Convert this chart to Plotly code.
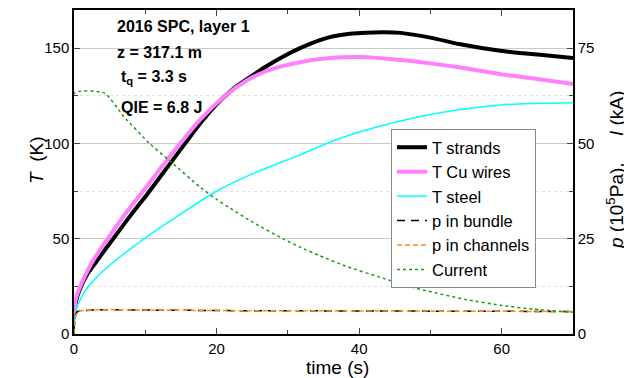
import plotly.graph_objects as go

# ---- data ----
t_strands = [0, 0.1, 0.4, 1.0, 1.8, 2.9, 4.5, 6.1, 8, 10.4, 13.5, 17.7, 20, 22.3, 24.7, 27, 29.3, 31.7, 34.5, 36.4, 38.7, 41, 43.4, 45.8, 50, 54.2, 59.8, 65, 70]
T_strands = [8, 12, 19, 25, 31, 36.7, 45, 53, 62.5, 74, 89.5, 110.5, 120.5, 128.5, 134.8, 140.5, 145.5, 150, 154.2, 156.2, 157.5, 158.1, 158.3, 158, 155.5, 152, 148.6, 146.6, 144.8]

t_cu = [0, 0.1, 0.3, 1.0, 2.4, 3.8, 5.2, 7.5, 9.9, 13, 17.7, 21.2, 24, 27, 29.5, 31.7, 34, 36.4, 40, 45.8, 50, 54.2, 59.8, 65, 70]
T_cu = [9, 14, 19, 26, 36.7, 45, 52.5, 64.5, 76, 91, 112.5, 125, 132.5, 138, 140.8, 142.6, 144.1, 145, 145.3, 143.8, 142, 139.8, 136.3, 133.8, 131.1]

t_steel = [0, 0.4, 1.0, 1.9, 3.5, 5.2, 7.5, 10.4, 15, 19.8, 25, 31.7, 36.4, 40, 45.8, 52.8, 59.8, 65, 70]
T_steel = [5, 14, 19, 24.4, 31, 36.7, 43.5, 51.5, 63, 74.5, 84, 94, 101.4, 106, 111.8, 117, 120.2, 121, 121.4]

t_p = [0, 0.2, 0.5, 1, 3, 5, 8, 15, 25, 40, 50, 60, 70]
p_bundle = [1, 5.2, 5.9, 6.1, 6.3, 6.4, 6.3, 6.15, 6.1, 6.05, 6.0, 5.95, 5.9]
p_channels = [0, 4.8, 5.8, 6.1, 6.3, 6.4, 6.3, 6.15, 6.1, 6.05, 6.0, 5.95, 5.9]

t_I = [0, 0.05, 4.3, 7, 10.6, 13.4, 17.7, 20, 21.9, 25, 29.4, 31.7, 34.5, 38, 43.4, 48, 55.1, 60, 64.5, 70]
I_current = [0, 63.2, 63.2, 57, 50, 45.5, 38.5, 35.3, 33.0, 29.4, 24.9, 22.8, 20.5, 17.9, 14.6, 12.0, 9.0, 7.5, 6.5, 5.7]

x_ticks = [0, 20, 40, 60]
yT_ticks = [0, 50, 100, 150]
y2_ticks = [0, 25, 50, 75]

FONT = "Arial, Liberation Sans, sans-serif"
OFF = 8  # page body margin offsets the figure in the browser window
W, H = 632, 378
# target plot area in window pixels: x 74..573, y 10..334
L, T = 74 - OFF, 10 - OFF
R = W - (573 - OFF)
B = H - (334 - OFF)
PW, PH = W - L - R, H - T - B


def px_x(px):  # window pixel -> paper coordinate
    return (px - OFF - L) / PW


def px_y(py):
    return (H - B - (py - OFF)) / PH


fig = go.Figure()
fig.add_trace(go.Scatter(x=t_strands, y=T_strands, name="T strands", mode="lines",
                         line=dict(color="black", width=4, shape="spline", smoothing=0.8)))
fig.add_trace(go.Scatter(x=t_cu, y=T_cu, name="T Cu wires", mode="lines",
                         line=dict(color="#ff7fff", width=4, shape="spline", smoothing=0.8)))
fig.add_trace(go.Scatter(x=t_steel, y=T_steel, name="T steel", mode="lines",
                         line=dict(color="#00ffff", width=1.5, shape="spline", smoothing=0.8)))
fig.add_trace(go.Scatter(x=t_p, y=p_bundle, name="p in bundle", mode="lines", yaxis="y2",
                         line=dict(color="black", width=1.5, dash="8px,6px")))
fig.add_trace(go.Scatter(x=t_p, y=p_channels, name="p in channels", mode="lines", yaxis="y2",
                         line=dict(color="#ff8c1a", width=1.5, dash="5px,3px")))
fig.add_trace(go.Scatter(x=t_I, y=I_current, name="Current", mode="lines", yaxis="y2",
                         line=dict(color="#1a9a1a", width=1.5, dash="dot", shape="spline", smoothing=0.5)))

annots = [
    ("<b>2016 SPC, layer 1</b>", 115, 26),
    ("<b>z = 317.1 m</b>", 115, 52),
    ("<b>t<sub>q</sub> = 3.3 s</b>", 119, 77),
    ("<b>QIE = 6.8 J</b>", 119, 107),
]
for txt, px, py in annots:
    fig.add_annotation(text=txt, xref="paper", yref="paper",
                       x=px_x(px), y=px_y(py), xanchor="left", yanchor="middle",
                       showarrow=False, font=dict(family=FONT, size=16, color="black"))

# axis titles placed as text annotations for exact positioning
fig.add_annotation(text="time (s)", xref="paper", yref="paper", x=px_x(337), y=px_y(367),
                   xanchor="center", yanchor="middle", showarrow=False,
                   font=dict(family=FONT, size=19, color="black"))
fig.add_annotation(text="<i>T</i>\u00a0\u00a0(K)", xref="paper", yref="paper", x=px_x(37), y=px_y(160),
                   xanchor="center", yanchor="middle", showarrow=False, textangle=-90,
                   font=dict(family=FONT, size=19, color="black"))
fig.add_annotation(text="<i>p</i> (10<sup>5</sup>Pa),\u00a0\u00a0\u00a0\u00a0\u00a0<i>I</i> (kA)",
                   xref="paper", yref="paper", x=px_x(615), y=px_y(170),
                   xanchor="center", yanchor="middle", showarrow=False, textangle=-90,
                   font=dict(family=FONT, size=19, color="black"))

fig.update_layout(
    width=W, height=H,
    margin=dict(l=L, r=R, t=T, b=B),
    paper_bgcolor="white", plot_bgcolor="white",
    font=dict(family=FONT, size=15, color="black"),
    showlegend=True,
    legend=dict(x=px_x(391), y=px_y(129), xanchor="left", yanchor="top",
                bgcolor="white", bordercolor="#888888", borderwidth=1,
                font=dict(family=FONT, size=16.5), tracegroupgap=0),
    xaxis=dict(range=[0, 70], tickvals=x_ticks, ticks="inside", ticklen=6, tickwidth=1.2,
               showline=True, linecolor="black", linewidth=1.5, mirror="ticks",
               showgrid=False, zeroline=False, automargin=False,
               minor=dict(dtick=10, tick0=0, ticks="inside", ticklen=4, showgrid=False)),
    yaxis=dict(range=[0, 170], tickvals=yT_ticks, ticks="inside", ticklen=6, tickwidth=1.2,
               showline=True, linecolor="black", linewidth=1.5, automargin=False,
               showgrid=True, gridcolor="#c8c8c8", gridwidth=1, zeroline=False,
               minor=dict(dtick=25, tick0=0, ticks="inside", ticklen=4,
                          showgrid=True, gridcolor="#e0e0e0", griddash="dot")),
    yaxis2=dict(range=[0, 85], tickvals=y2_ticks, overlaying="y", side="right",
                ticks="inside", ticklen=6, tickwidth=1.2, automargin=False,
                showline=True, linecolor="black", linewidth=1.5,
                showgrid=False, zeroline=False,
                minor=dict(dtick=12.5, tick0=0, ticks="inside", ticklen=4, showgrid=False)),
)

fig.write_html("out.html")
